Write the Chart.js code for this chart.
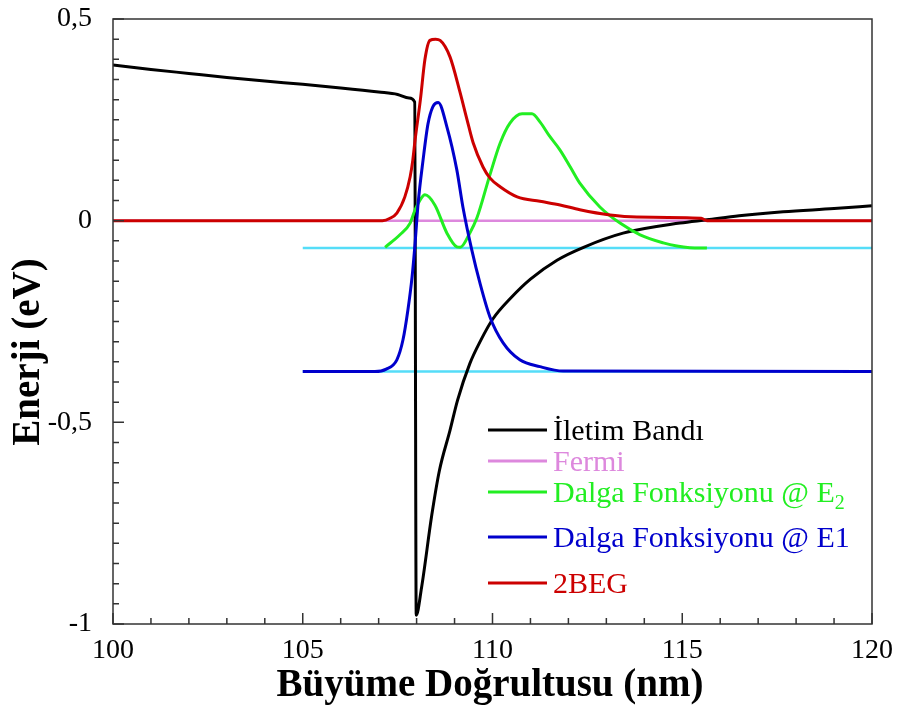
<!DOCTYPE html>
<html>
<head>
<meta charset="utf-8">
<script src="https://cdn.jsdelivr.net/npm/chart.js@4"></script>
<style>
  body { margin: 0; background: #fff; }
  canvas { display: block; }
</style>
</head>
<body>
<canvas id="chartBand" width="901" height="711"></canvas>
<script>
// values (x in nm, y in eV)
const bandX = [100, 101, 102, 103, 104, 105, 106, 107, 107.5, 107.8, 107.95, 107.99, 108.13, 108.4, 108.6, 108.88, 109.08, 109.4, 109.7, 110.0, 110.5, 111.0, 111.7, 112.4, 113.44, 114.94, 115.65, 116.5, 117.66, 119, 120];
const bandY = [0.386, 0.375, 0.365, 0.355, 0.346, 0.338, 0.329, 0.319, 0.313, 0.304, 0.294, -0.978, -0.91, -0.73, -0.62, -0.52, -0.445, -0.355, -0.295, -0.245, -0.19, -0.145, -0.098, -0.066, -0.031, -0.006, 0.002, 0.012, 0.022, 0.03, 0.037];

const fermiX = [100, 120];
const fermiY = [0, 0];

const e2X = [107.17, 107.56, 107.83, 107.96, 108.09, 108.22, 108.48, 108.8, 109.06, 109.15, 109.4, 109.59, 109.93, 110.2, 110.46, 110.78, 111.04, 111.25, 111.5, 111.78, 112.05, 112.3, 112.83, 113.36, 113.89, 114.5, 114.86, 115.2, 115.65];
const e2Y = [-0.066, -0.035, -0.006, 0.027, 0.051, 0.064, 0.039, -0.031, -0.065, -0.066, -0.031, 0.007, 0.113, 0.192, 0.242, 0.265, 0.265, 0.245, 0.21, 0.175, 0.133, 0.093, 0.034, -0.006, -0.035, -0.055, -0.063, -0.067, -0.068];

const e1X = [105, 106.9, 107.2, 107.48, 107.64, 107.77, 107.88, 107.96, 108.04, 108.17, 108.3, 108.43, 108.57, 108.8, 109.06, 109.22, 109.46, 109.67, 109.93, 110.28, 110.72, 111.25, 111.86, 120];
const e1Y = [-0.374, -0.374, -0.368, -0.345, -0.296, -0.222, -0.14, -0.056, 0.043, 0.15, 0.24, 0.283, 0.293, 0.232, 0.126, 0.034, -0.075, -0.155, -0.238, -0.303, -0.345, -0.362, -0.373, -0.374];

const begX = [100, 107.1, 107.3, 107.48, 107.69, 107.83, 107.9, 107.96, 108.1, 108.22, 108.35, 108.5, 108.62, 108.88, 109.14, 109.33, 109.49, 109.75, 109.93, 110.2, 110.65, 111.25, 111.78, 112.3, 113.1, 113.8, 115.5, 115.65, 120];
const begY = [0, 0, 0.006, 0.019, 0.059, 0.109, 0.15, 0.2, 0.30, 0.40, 0.447, 0.45, 0.447, 0.406, 0.32, 0.25, 0.193, 0.133, 0.106, 0.084, 0.059, 0.048, 0.039, 0.027, 0.014, 0.009, 0.006, 0, 0];

const levelX = [105, 120];
const levelE2 = [-0.068, -0.068];
const levelE1 = [-0.374, -0.374];

const legendLabels = ["İletim Bandı", "Fermi", "Dalga Fonksiyonu @ E", "Dalga Fonksiyonu @ E1", "2BEG"];
const legendColors = ["#000000", "#dd88dd", "#22ee22", "#0000cc", "#cc0000"];
const legendRows = [430, 461, 492, 537, 583];

const serif = '"Liberation Serif", "Times New Roman", serif';

function pts(xs, ys) {
    return xs.map(function (x, i) { return { x: x, y: ys[i] }; });
}

function line(label, xs, ys, color, width) {
    return {
        label: label,
        data: pts(xs, ys),
        borderColor: color,
        backgroundColor: color,
        borderWidth: width,
        pointRadius: 0,
        fill: false,
        cubicInterpolationMode: "monotone",
    };
}

// inward minor/major ticks, frame, axis titles and legend
const decorations = {
    id: "decorations",
    afterDraw: function (chart) {
        const ctx = chart.ctx;
        const a = chart.chartArea;
        const xs = chart.scales.x;
        const ys = chart.scales.y;
        ctx.save();
        ctx.strokeStyle = "#333";
        ctx.lineWidth = 1.5;
        ctx.strokeRect(a.left, a.top, a.right - a.left, a.bottom - a.top);

        ctx.beginPath();
        for (let v = 100; v <= 120; v++) {
            const px = xs.getPixelForValue(v);
            const len = v % 5 === 0 ? 11 : 6;
            ctx.moveTo(px, a.bottom);
            ctx.lineTo(px, a.bottom - len);
        }
        for (let k = -20; k <= 10; k++) {
            const py = ys.getPixelForValue(k * 0.05);
            const len = k % 10 === 0 ? 11 : 6;
            ctx.moveTo(a.left, py);
            ctx.lineTo(a.left + len, py);
        }
        ctx.stroke();

        ctx.fillStyle = "#000";
        ctx.font = "bold 39px " + serif;
        ctx.textAlign = "center";
        ctx.textBaseline = "middle";
        ctx.fillText("Büyüme Doğrultusu (nm)", 490, 686);
        ctx.save();
        ctx.translate(29, 352);
        ctx.rotate(-Math.PI / 2);
        ctx.fillText("Enerji (eV)", 0, 0);
        ctx.restore();

        ctx.textAlign = "left";
        ctx.font = "30px " + serif;
        legendLabels.forEach(function (label, i) {
            const y = legendRows[i];
            ctx.strokeStyle = legendColors[i];
            ctx.lineWidth = 3;
            ctx.beginPath();
            ctx.moveTo(488, y);
            ctx.lineTo(547, y);
            ctx.stroke();
            ctx.fillStyle = legendColors[i];
            ctx.fillText(label, 553, y + 2);
            if (i === 2) {
                const w = ctx.measureText(label).width;
                ctx.font = "20px " + serif;
                ctx.fillText("2", 553 + w, y + 12);
                ctx.font = "30px " + serif;
            }
        });
        ctx.restore();
    },
};

document.addEventListener("DOMContentLoaded", function () {
    const config = {
        type: "line",
        data: {
            datasets: [
                line("2BEG", begX, begY, "#cc0000", 3),
                line("Dalga Fonksiyonu @ E1", e1X, e1Y, "#0000cc", 3),
                line("Dalga Fonksiyonu @ E2", e2X, e2Y, "#22ee22", 3),
                line("İletim Bandı", bandX, bandY, "#000000", 3),
                line("Fermi", fermiX, fermiY, "#dd88dd", 2.5),
                line("E2", levelX, levelE2, "#55ddf8", 2.5),
                line("E1", levelX, levelE1, "#55ddf8", 2.5),
            ],
        },
        options: {
            responsive: false,
            animation: false,
            layout: { padding: { top: 19, right: 29, left: 0, bottom: 0 } },
            plugins: {
                legend: { display: false },
                tooltip: { enabled: false },
            },
            scales: {
                x: {
                    type: "linear",
                    min: 100,
                    max: 120,
                    afterFit: function (s) {
                        s.height = 87;
                        s.paddingLeft = 0;
                        s.paddingRight = 0;
                    },
                    grid: { drawOnChartArea: false, drawTicks: false },
                    border: { display: false },
                    ticks: {
                        stepSize: 5,
                        color: "#000",
                        padding: 10,
                        maxRotation: 0,
                        font: { family: serif, size: 28 },
                    },
                },
                y: {
                    min: -1,
                    max: 0.5,
                    afterFit: function (s) {
                        s.width = 113;
                        s.paddingTop = 0;
                        s.paddingBottom = 0;
                    },
                    grid: { drawOnChartArea: false, drawTicks: false },
                    border: { display: false },
                    ticks: {
                        stepSize: 0.5,
                        color: "#000",
                        padding: 21,
                        font: { family: serif, size: 28 },
                        callback: function (v) { return String(v).replace(".", ","); },
                    },
                },
            },
        },
        plugins: [decorations],
    };

    new Chart(document.getElementById("chartBand"), config);
});
</script>
</body>
</html>
